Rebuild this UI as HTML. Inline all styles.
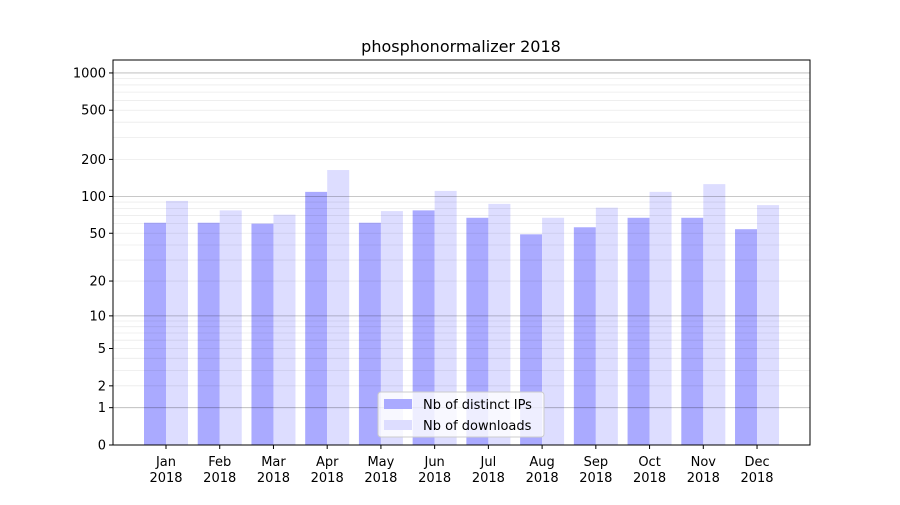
<!DOCTYPE html>
<html><head><meta charset="utf-8"><style>
body{margin:0;background:#fff;font-family:"Liberation Sans","DejaVu Sans",sans-serif}
svg text{font-family:"DejaVu Sans","Liberation Sans",sans-serif}
</style></head><body>
<svg id="c" width="900" height="500"></svg>
<script>
const months=["Jan","Feb","Mar","Apr","May","Jun","Jul","Aug","Sep","Oct","Nov","Dec"];
const ips=[61,61,60,109,61,77,67,49,56,67,67,54];
const downloads=[92,77,71,164,76,111,87,67,81,109,126,85];
const yTicks=[0,1,2,5,10,20,50,100,200,500,1000];
const NS="http://www.w3.org/2000/svg";
const svg=document.getElementById('c');
const L=113,R=810,T=60,B=445;
function y(v){return B-124*Math.log10(1+v);}
function x(i){return 166+i*53.73;}
function mk(t,a,p){const e=document.createElementNS(NS,t);for(const k in a)e.setAttribute(k,a[k]);(p||svg).appendChild(e);return e;}
months.forEach((m,i)=>{
 const b1=mk('rect',{x:x(i)-22,y:y(ips[i]),width:22,height:B-y(ips[i]),fill:'#aaaaff'});
 
 const b2=mk('rect',{x:x(i),y:y(downloads[i]),width:22,height:B-y(downloads[i]),fill:'#ddddff'});
 
 mk('line',{x1:x(i),x2:x(i),y1:B,y2:B+4,stroke:'#000'});
 const t=mk('text',{x:x(i),y:B+21,'text-anchor':'middle','font-size':13});
 t.textContent=m;
 const t2=mk('text',{x:x(i),y:B+37,'text-anchor':'middle','font-size':13});
 t2.textContent='2018';
});
const minors=[];for(let d=1;d<=1000;d*=10)for(let m=1;m<10;m++){const v=d*m;if(v<=1300)minors.push(v);}
minors.forEach(v=>{const g=mk('line',{x1:L,x2:R,y1:y(v),y2:y(v),stroke:'#000','stroke-opacity':0.08,'stroke-width':0.8});
});
[0,1,10,100,1000].forEach(v=>{const g=mk('line',{x1:L,x2:R,y1:y(v),y2:y(v),stroke:'#000','stroke-opacity':0.22,'stroke-width':0.8});
});
yTicks.forEach(v=>{mk('line',{x1:L-4,x2:L,y1:y(v),y2:y(v),stroke:'#000'});
 const t=mk('text',{x:L-7,y:y(v)+4.5,'text-anchor':'end','font-size':13});
 t.textContent=v;});
const f=mk('rect',{x:L,y:T,width:R-L,height:B-T,fill:'none',stroke:'#000','stroke-width':1});

const ti=mk('text',{x:461,y:52,'text-anchor':'middle','font-size':16});
ti.textContent='phosphonormalizer 2018';
const lg=mk('g',{});
mk('rect',{x:378,y:392,width:166,height:45,fill:'#fff','fill-opacity':0.8,stroke:'#ccc',rx:3},lg);
mk('rect',{x:384,y:399,width:28,height:10,fill:'#aaaaff'},lg);
mk('rect',{x:384,y:420,width:28,height:10,fill:'#ddddff'},lg);
const l1=mk('text',{x:423,y:409,'font-size':13},lg);l1.textContent='Nb of distinct IPs';

const l2=mk('text',{x:423,y:430,'font-size':13},lg);l2.textContent='Nb of downloads';

</script></body></html>
